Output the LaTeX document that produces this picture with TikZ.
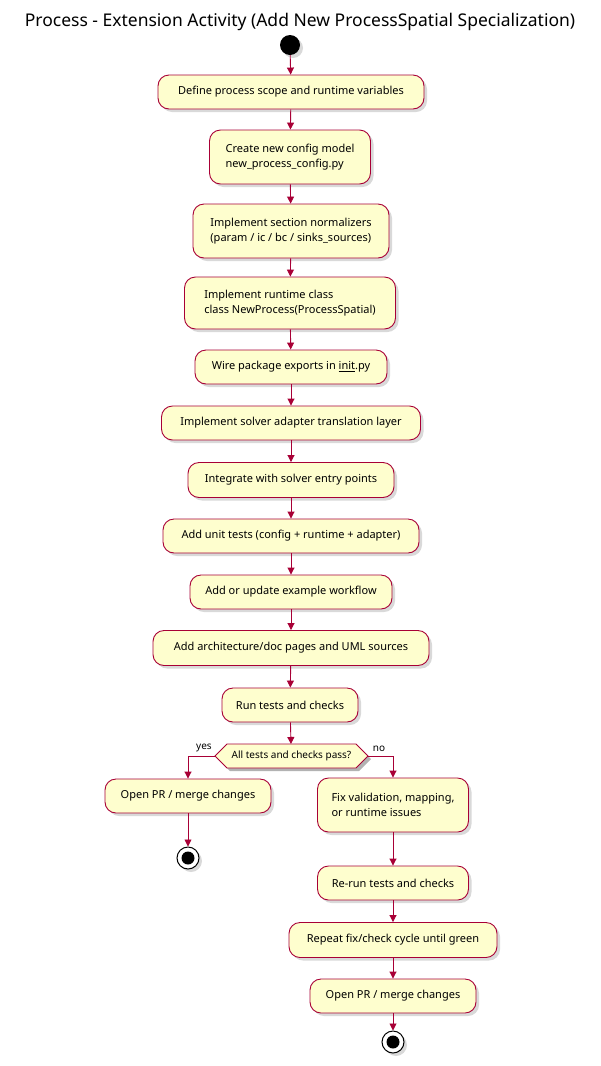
\documentclass[tikz,border=0pt]{standalone}
\usepackage{fontspec}
\setmainfont{Noto Sans}
\usetikzlibrary{shadows,arrows.meta}
\definecolor{bd}{HTML}{A80036}
\definecolor{fl}{HTML}{FEFECE}
\begin{document}
\begin{tikzpicture}[x=1pt,y=-1pt,
  act/.style={draw=bd,fill=fl,line width=0.9pt,rounded corners=11pt,align=left,font=\fontsize{11}{15}\selectfont,inner sep=0pt,drop shadow={opacity=0.3,shadow xshift=3pt,shadow yshift=-3pt}},
  arr/.style={draw=bd,line width=0.9pt,-{Triangle[length=7pt,width=7pt]}},
  lbl/.style={font=\fontsize{10}{12}\selectfont}]
\useasboundingbox (0,0) rectangle (600,1066);
\node[font=\fontsize{17.5}{22}\selectfont] (title) at (300,22) {Process - Extension Activity (Add New ProcessSpatial Specialization)};
\node[circle,fill=black,minimum size=20pt,inner sep=0pt,drop shadow={opacity=0.3,shadow xshift=3pt,shadow yshift=-3pt}] (start) at (290,45) {};
\node[act,minimum width=266pt,minimum height=34pt] (a1) at (291,92) {Define process scope and runtime variables};
\node[act,minimum width=161pt,minimum height=54pt] (a2) at (290,157) {Create new config model\\new\_process\_config.py};
\node[act,minimum width=196pt,minimum height=54pt] (a3) at (291,231) {Implement section normalizers\\(param / ic / bc / sinks\_sources)};
\node[act,minimum width=211pt,minimum height=52pt] (a4) at (290,303) {Implement runtime class\\class NewProcess(ProcessSpatial)};
\node[act,minimum width=192pt,minimum height=34pt] (a5) at (291,367) {Wire package exports in \underline{init}.py};
\node[act,minimum width=259pt,minimum height=34pt] (a6) at (291,423) {Implement solver adapter translation layer};
\node[act,minimum width=206pt,minimum height=35pt] (a7) at (291,480) {Integrate with solver entry points};
\node[act,minimum width=256pt,minimum height=34pt] (a8) at (291,536) {Add unit tests (config + runtime + adapter)};
\node[act,minimum width=202pt,minimum height=34pt] (a9) at (291,592) {Add or update example workflow};
\node[act,minimum width=276pt,minimum height=35pt] (a10) at (291,648) {Add architecture/doc pages and UML sources};
\node[act,minimum width=136pt,minimum height=34pt] (a11) at (290,705) {Run tests and checks};
\fill[black,opacity=0.3] (218,759)--(230,747)--(359,747)--(371,759)--(359,771)--(230,771)--cycle;
\draw[bd,fill=fl,line width=0.9pt] (215,756)--(227,744)--(356,744)--(368,756)--(356,768)--(227,768)--cycle;
\node[lbl] (d) at (291.5,756) {All tests and checks pass?};
\coordinate (dl) at (215,756);
\coordinate (dr) at (368,756);
\coordinate (dt) at (291,744);
\node[lbl,anchor=south] (yes) at (204,755) {yes};
\node[lbl,anchor=south] (no) at (379,755) {no};
\node[act,minimum width=166pt,minimum height=34pt] (y1) at (188,796) {Open PR / merge changes};
\node[circle,draw=black,line width=1pt,fill=white,minimum size=22pt,inner sep=0pt,drop shadow={opacity=0.3,shadow xshift=3pt,shadow yshift=-3pt}] (e1) at (188,858) {};
\fill[black] (e1) circle (6.5pt);
\node[act,minimum width=151pt,minimum height=54pt] (n1) at (393,805) {Fix validation, mapping,\\or runtime issues};
\node[act,minimum width=151pt,minimum height=34pt] (n2) at (393,883) {Re-run tests and checks};
\node[act,minimum width=208pt,minimum height=35pt] (n3) at (393,940) {Repeat fix/check cycle until green};
\node[act,minimum width=166pt,minimum height=34pt] (n4) at (393,996) {Open PR / merge changes};
\node[circle,draw=black,line width=1pt,fill=white,minimum size=22pt,inner sep=0pt,drop shadow={opacity=0.3,shadow xshift=3pt,shadow yshift=-3pt}] (e2) at (393,1042) {};
\fill[black] (e2) circle (6.5pt);
\draw[arr] (start) -- (a1);
\draw[arr] (a1) -- (a2);
\draw[arr] (a2) -- (a3);
\draw[arr] (a3) -- (a4);
\draw[arr] (a4) -- (a5);
\draw[arr] (a5) -- (a6);
\draw[arr] (a6) -- (a7);
\draw[arr] (a7) -- (a8);
\draw[arr] (a8) -- (a9);
\draw[arr] (a9) -- (a10);
\draw[arr] (a10) -- (a11);
\draw[arr] (a11) -- (dt);
\draw[arr] (dl) -| (y1);
\draw[arr] (dr) -| (n1);
\draw[arr] (y1) -- (e1);
\draw[arr] (n1) -- (n2);
\draw[arr] (n2) -- (n3);
\draw[arr] (n3) -- (n4);
\draw[arr] (n4) -- (e2);
\end{tikzpicture}
\end{document}
